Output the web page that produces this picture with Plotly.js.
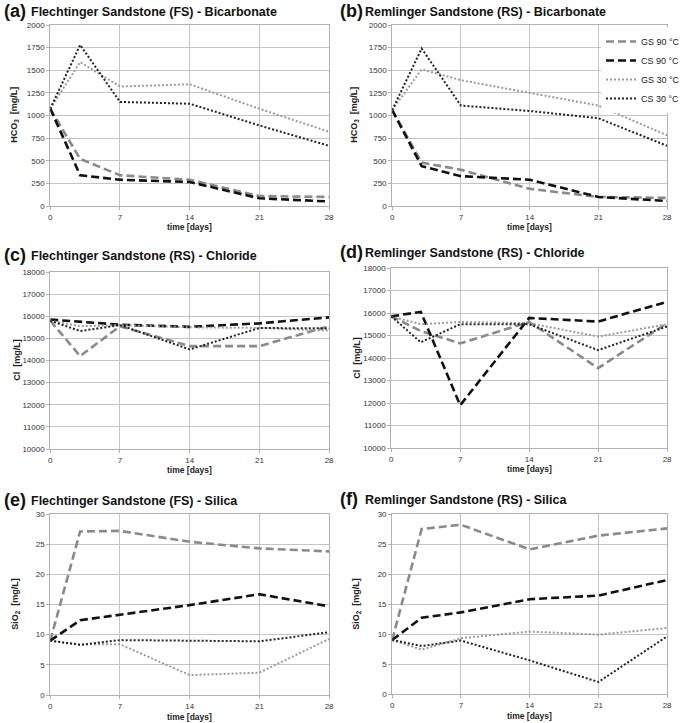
<!DOCTYPE html>
<html><head><meta charset="utf-8">
<script src="https://cdn.plot.ly/plotly-3.0.1.min.js"></script>
<style>body{margin:0;background:#fff}#g{width:685px;height:723px}</style>
</head><body><div id="g"></div>
<script>
const days = [0, 3, 7, 14, 21, 28];
const seriesNames = ["GS 90 °C", "CS 90 °C", "GS 30 °C", "CS 30 °C"];

// (a) FS bicarbonate
const fsHCO3_GS90 = [1075, 520, 340, 290, 110, 100];
const fsHCO3_CS90 = [1075, 340, 290, 265, 85, 50];
const fsHCO3_GS30 = [1075, 1590, 1320, 1345, 1075, 820];
const fsHCO3_CS30 = [1075, 1780, 1150, 1130, 890, 665];
// (b) RS bicarbonate
const rsHCO3_GS90 = [1060, 480, 400, 190, 100, 90];
const rsHCO3_CS90 = [1060, 440, 330, 290, 100, 55];
const rsHCO3_GS30 = [1060, 1510, 1390, 1250, 1110, 780];
const rsHCO3_CS30 = [1060, 1740, 1110, 1050, 970, 665];
// (c) FS chloride
const fsCl_GS90 = [15800, 14200, 15550, 14650, 14650, 15550];
const fsCl_CS90 = [15850, 15750, 15620, 15520, 15680, 15950];
const fsCl_GS30 = [15800, 15550, 15600, 15500, 15470, 15350];
const fsCl_CS30 = [15800, 15330, 15600, 14500, 15470, 15450];
// (d) RS chloride
const rsCl_GS90 = [15850, 15200, 14650, 15600, 13550, 15550];
const rsCl_CS90 = [15850, 16050, 11900, 15780, 15620, 16500];
const rsCl_GS30 = [15850, 15500, 15600, 15550, 14950, 15500];
const rsCl_CS30 = [15850, 14700, 15500, 15500, 14350, 15400];
// (e) FS silica
const fsSi_GS90 = [9, 27.1, 27.2, 25.4, 24.3, 23.8];
const fsSi_CS90 = [9, 12.4, 13.3, 14.9, 16.7, 14.7];
const fsSi_GS30 = [9, 8.4, 8.4, 3.3, 3.7, 9.3];
const fsSi_CS30 = [9, 8.3, 9.1, 9.0, 8.9, 10.4];
// (f) RS silica
const rsSi_GS90 = [9, 27.5, 28.2, 24.1, 26.4, 27.6];
const rsSi_CS90 = [9, 12.7, 13.6, 15.8, 16.4, 19.0];
const rsSi_GS30 = [9, 7.4, 9.3, 10.4, 9.9, 11.0];
const rsSi_CS30 = [9, 8.0, 8.9, 5.6, 2.0, 9.6];

const xTicks = [0, 7, 14, 21, 28];

const styles = [
  {color: "#8a8a8a", width: 2.6, dash: "8px,4px"},
  {color: "#111111", width: 2.6, dash: "8px,4px"},
  {color: "#9a9a9a", width: 2, dash: "2px,2px"},
  {color: "#222222", width: 2, dash: "2px,2px"}
];

const panels = [
  {data: [fsHCO3_GS90, fsHCO3_CS90, fsHCO3_GS30, fsHCO3_CS30], yr: [0, 2000], dt: 250, x: [51, 334], y: [25, 206]},
  {data: [rsHCO3_GS90, rsHCO3_CS90, rsHCO3_GS30, rsHCO3_CS30], yr: [0, 2000], dt: 250, x: [398, 677], y: [25, 206], legend: true},
  {data: [fsCl_GS90, fsCl_CS90, fsCl_GS30, fsCl_CS30], yr: [10000, 18000], dt: 1000, x: [51, 334], y: [272, 449]},
  {data: [rsCl_GS90, rsCl_CS90, rsCl_GS30, rsCl_CS30], yr: [10000, 18000], dt: 1000, x: [397, 677], y: [268, 448]},
  {data: [fsSi_GS90, fsSi_CS90, fsSi_GS30, fsSi_CS30], yr: [0, 30], dt: 5, x: [51, 334], y: [514, 695]},
  {data: [rsSi_GS90, rsSi_CS90, rsSi_GS30, rsSi_CS30], yr: [0, 30], dt: 5, x: [398, 677], y: [514, 694]}
];

const W = 685, H = 723;
const traces = [];
const layout = {
  width: W, height: H, margin: {l: 0, r: 0, t: 0, b: 0},
  paper_bgcolor: "#fff", plot_bgcolor: "#fff",
  font: {family: "Liberation Sans, Arial, sans-serif", color: "#222"},
  showlegend: true,
  legend: {x: 610 / W, y: 1 - 27 / H, xanchor: "left", yanchor: "top", bgcolor: "#fff",
           font: {size: 9, color: "#222"}, tracegroupgap: 0, itemwidth: 30},
  annotations: []
};

panels.forEach((p, i) => {
  const n = i + 1;
  const xa = "x" + (n === 1 ? "" : n), ya = "y" + (n === 1 ? "" : n);
  p.data.forEach((vals, k) => {
    traces.push({
      x: days, y: vals, xaxis: xa, yaxis: ya, type: "scatter", mode: "lines",
      name: seriesNames[k], showlegend: !!p.legend, line: styles[k], hoverinfo: "skip"
    });
  });
  const axX = {
    domain: [p.x[0] / W, p.x[1] / W], range: [0, 28], tickvals: xTicks, ticktext: xTicks.map(String),
    showgrid: true, gridcolor: "#c4c4c4", gridwidth: 1, zeroline: false,
    showline: true, linecolor: "#b0b0b0", mirror: true, ticks: "outside", ticklen: 3, tickcolor: "#b0b0b0",
    tickfont: {size: 8, color: "#333"}, anchor: ya, fixedrange: true
  };
  const ticksY = [];
  for (let v = p.yr[0]; v <= p.yr[1] + 1e-9; v += p.dt) ticksY.push(v);
  const axY = {
    domain: [1 - p.y[1] / H, 1 - p.y[0] / H], range: p.yr, tickvals: ticksY, ticktext: ticksY.map(String),
    showgrid: true, gridcolor: "#c4c4c4", gridwidth: 1, zeroline: false,
    showline: true, linecolor: "#b0b0b0", mirror: true, ticks: "outside", ticklen: 3, tickcolor: "#b0b0b0",
    tickfont: {size: 8, color: "#333"}, anchor: xa, fixedrange: true
  };
  layout["xaxis" + (n === 1 ? "" : n)] = axX;
  layout["yaxis" + (n === 1 ? "" : n)] = axY;
});

const titles = [
  {lab: "(a)", txt: "Flechtinger Sandstone (FS) - Bicarbonate", lx: 2, tx: 29, y: 11},
  {lab: "(b)", txt: "Remlinger Sandstone (RS) - Bicarbonate", lx: 343, tx: 368, y: 11},
  {lab: "(c)", txt: "Flechtinger Sandstone (RS) - Chloride", lx: 2, tx: 29, y: 255},
  {lab: "(d)", txt: "Remlinger Sandstone (RS) - Chloride", lx: 343, tx: 368, y: 252},
  {lab: "(e)", txt: "Flechtinger Sandstone (FS) - Silica", lx: 2, tx: 29, y: 500},
  {lab: "(f)", txt: "Remlinger Sandstone (RS) - Silica", lx: 343, tx: 368, y: 499}
];
titles.forEach(t => {
  layout.annotations.push({xref: "paper", yref: "paper", x: t.lx / W, y: 1 - t.y / H, xanchor: "left", yanchor: "middle",
    text: "<b>" + t.lab + "</b>", showarrow: false, font: {size: 18, color: "#111"}});
  layout.annotations.push({xref: "paper", yref: "paper", x: t.tx / W, y: 1 - (t.y + 1) / H, xanchor: "left", yanchor: "middle",
    text: "<b>" + t.txt + "</b>", showarrow: false, font: {size: 12.5, color: "#111"}});
});

const yTitles = [
  {t: "HCO<sub>3</sub>  [mg/L]", x: 15, y: 115}, {t: "HCO<sub>3</sub>  [mg/L]", x: 360, y: 115},
  {t: "Cl  [mg/L]", x: 17, y: 360}, {t: "Cl  [mg/L]", x: 362, y: 358},
  {t: "SiO<sub>2</sub>  [mg/L]", x: 15, y: 604}, {t: "SiO<sub>2</sub>  [mg/L]", x: 361, y: 604}
];
yTitles.forEach(a => layout.annotations.push({xref: "paper", yref: "paper", x: a.x / W, y: 1 - a.y / H,
  xanchor: "center", yanchor: "middle", textangle: -90, text: "<b>" + a.t + "</b>", showarrow: false,
  font: {size: 9, color: "#222"}}));

const xTitles = [{x: 192, y: 227}, {x: 537, y: 227}, {x: 192, y: 470}, {x: 537, y: 469}, {x: 192, y: 717}, {x: 537, y: 716}];
xTitles.forEach(a => layout.annotations.push({xref: "paper", yref: "paper", x: a.x / W, y: 1 - a.y / H,
  xanchor: "center", yanchor: "middle", text: "<b>time [days]</b>", showarrow: false, font: {size: 8.5, color: "#222"}}));

Plotly.newPlot("g", traces, layout, {staticPlot: true});
</script></body></html>
